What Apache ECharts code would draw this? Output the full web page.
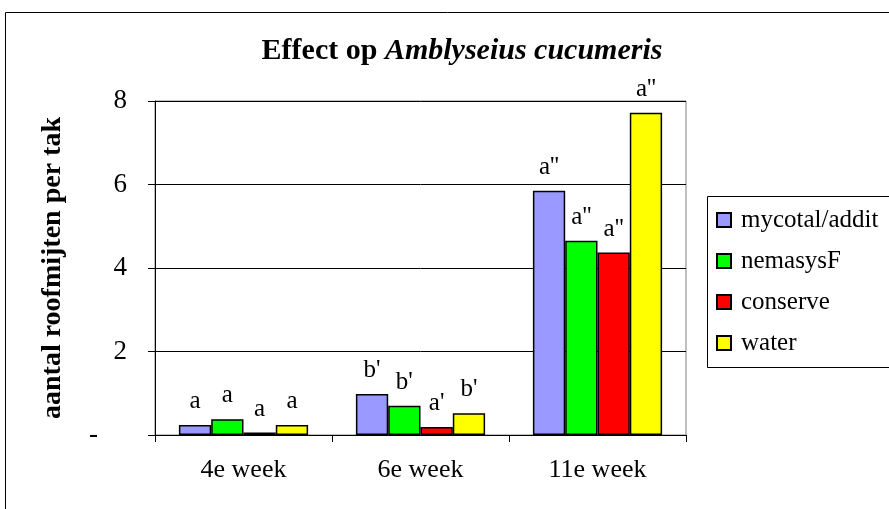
<!DOCTYPE html>
<html>
<head>
<meta charset="utf-8">
<script src="https://cdn.jsdelivr.net/npm/echarts@6/dist/echarts.min.js"></script>
<style>
html,body{margin:0;padding:0;background:#fff;}
#chart{width:889px;height:509px;}
</style>
</head>
<body>
<div id="chart"></div>
<script>
// data
var weeks = ['4e week', '6e week', '11e week']
var seriesNames = ['mycotal/addit', 'nemasysF', 'conserve', 'water']
var colors = ['#9999ff', '#00ff00', '#ff0000', '#ffff00']
var mycotal = [0.24, 0.98, 5.85]
var nemasys = [0.38, 0.70, 4.65]
var conserve = [0.06, 0.19, 4.37]
var water = [0.24, 0.52, 7.72]
var letters = [
    ['a', "b'", "a''"],
    ['a', "b'", "a''"],
    ['a', "a'", "a''"],
    ['a', "b'", "a''"]
]
var yTicks = [0, 2, 4, 6, 8]

var serif = '"Liberation Serif", "DejaVu Serif", serif'
var values = [mycotal, nemasys, conserve, water]

var chart = echarts.init(document.getElementById('chart'))

var series = seriesNames.map(function (name, i) {
    return {
        name: name,
        type: 'bar',
        data: values[i],
        barGap: 0,
        barCategoryGap: '27%',
        itemStyle: {color: colors[i], borderColor: '#000', borderWidth: 1.5},
        label: {
            show: true,
            position: 'top',
            distance: 11,
            fontFamily: serif,
            fontSize: 25,
            color: '#000',
            formatter: function (p) { return letters[i][p.dataIndex] }
        }
    }
})

chart.setOption({
    animation: false,
    textStyle: {fontFamily: serif},
    title: {
        text: '{b|Effect op }{i|Amblyseius cucumeris}',
        left: 457,
        textAlign: 'center',
        top: 31,
        textStyle: {
            rich: {
                b: {fontFamily: serif, fontWeight: 'bold', fontSize: 30, color: '#000'},
                i: {fontFamily: serif, fontWeight: 'bold', fontStyle: 'italic', fontSize: 30, color: '#000'}
            }
        }
    },
    legend: {
        orient: 'vertical',
        left: 707,
        top: 196,
        padding: [11, 0, 11, 9],
        itemGap: 15,
        itemWidth: 14,
        itemHeight: 14,
        borderWidth: 0,
        icon: 'rect',
        textStyle: {fontFamily: serif, fontSize: 25, color: '#000', padding: [0, 0, 0, 5], lineHeight: 26},
        data: seriesNames
    },
    grid: {left: 155, top: 101, width: 531, height: 334, show: true, borderColor: '#808080', borderWidth: 1},
    xAxis: {
        type: 'category',
        data: weeks,
        axisLine: {lineStyle: {color: '#000', width: 1}},
        axisTick: {show: true, length: 7, lineStyle: {color: '#000'}},
        axisLabel: {fontFamily: serif, fontSize: 26, color: '#000', margin: 22}
    },
    yAxis: [{
        type: 'value',
        min: yTicks[0],
        max: yTicks[yTicks.length - 1],
        interval: 2,
        name: 'aantal roofmijten per tak',
        nameLocation: 'middle',
        nameGap: 88,
        nameTextStyle: {fontFamily: serif, fontWeight: 'bold', fontSize: 28, color: '#000'},
        axisLine: {show: true, lineStyle: {color: '#000'}},
        axisTick: {show: true, length: 7, lineStyle: {color: '#000'}},
        splitLine: {lineStyle: {color: '#000', width: 1}},
        axisLabel: {
            fontFamily: serif, fontSize: 27, color: '#000', margin: 28,
            formatter: function (v) { return v === 0 ? '{d|-}' : String(v) },
            rich: {d: {fontFamily: serif, fontSize: 27, color: '#000', padding: [0, 29, 0, 0]}}
        }
    }, {
        type: 'value',
        position: 'left',
        min: yTicks[0],
        max: yTicks[yTicks.length - 1],
        interval: 2,
        axisLine: {show: false},
        axisTick: {show: true, inside: true, length: 5, lineStyle: {color: '#000'}},
        axisLabel: {show: false},
        splitLine: {show: false}
    }],
    graphic: [{
        type: 'polyline',
        shape: {points: [[5.5, 509], [5.5, 12.5], [889, 12.5]]},
        style: {stroke: '#000', lineWidth: 1, fill: null}
    }, {
        // legend frame runs off the right edge, as in the reference
        type: 'rect',
        shape: {x: 707.5, y: 196.5, width: 300, height: 171},
        style: {stroke: '#000', lineWidth: 1, fill: null},
        silent: true
    }],
    series: series
})
</script>
</body>
</html>
